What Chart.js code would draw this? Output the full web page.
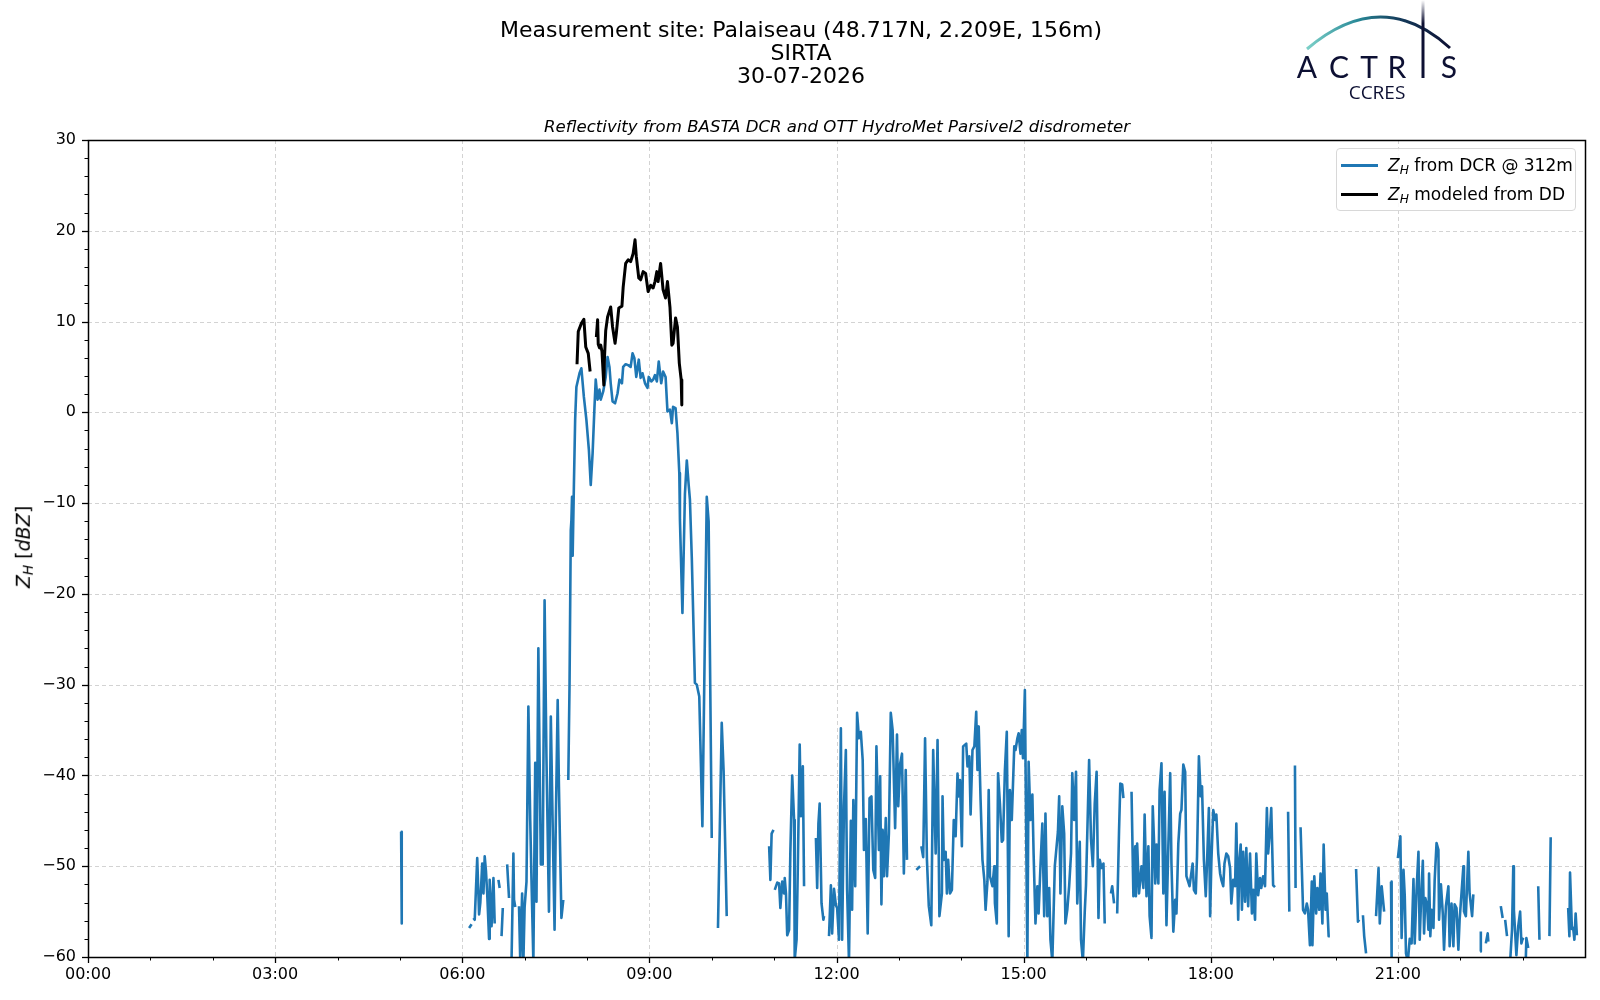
<!DOCTYPE html>
<html>
<head>
<meta charset="utf-8">
<script src="https://cdn.jsdelivr.net/npm/chart.js@4.4.1/dist/chart.umd.min.js"></script>
<style>
html,body{margin:0;padding:0;background:#fff;}
#wrap{position:relative;width:1600px;height:1000px;font-family:'DejaVu Sans',sans-serif;color:#000;overflow:hidden;}
#c{position:absolute;left:0;top:0;}
.ctr{position:absolute;transform:translate(-50%,-50%);white-space:nowrap;}
#title{left:801px;top:52px;font-size:22px;line-height:23px;text-align:center;}
#subtitle{left:837px;top:126px;font-size:16.6px;font-style:italic;}
#ylab{left:24px;top:547px;font-size:19px;transform:translate(-50%,-50%) rotate(-90deg);}
#ylab sub{font-size:0.72em;vertical-align:-0.25em;}
#legend{position:absolute;left:1336px;top:148px;width:240px;height:63px;border:1px solid #d8d8d8;border-radius:4px;background:rgba(255,255,255,0.85);box-sizing:border-box;}
.lrow{position:absolute;left:0;height:24px;font-size:17px;white-space:nowrap;}
.lrow .sw{position:absolute;left:4px;top:11px;width:37px;height:3px;}
.lrow .tx{position:absolute;left:51px;top:0;line-height:24px;}
.lrow sub{font-size:0.72em;vertical-align:-0.25em;}
#logo{position:absolute;left:0;top:0;}
</style>
</head>
<body>
<div id="wrap">
<canvas id="c" width="1600" height="1000"></canvas>
<div id="title" class="ctr">Measurement site: Palaiseau (48.717N, 2.209E, 156m)<br>SIRTA<br>30-07-2026</div>
<div id="subtitle" class="ctr">Reflectivity from BASTA DCR and OTT HydroMet Parsivel2 disdrometer</div>
<div id="ylab" class="ctr"><i>Z</i><sub><i>H</i></sub> [<i>dBZ</i>]</div>
<div id="legend">
  <div class="lrow" style="top:4px"><div class="sw" style="background:#1f77b4"></div><div class="tx"><i>Z</i><sub><i>H</i></sub> from DCR @ 312m</div></div>
  <div class="lrow" style="top:33px"><div class="sw" style="background:#000"></div><div class="tx"><i>Z</i><sub><i>H</i></sub> modeled from DD</div></div>
</div>
<svg id="logo" width="1600" height="110">
  <defs>
    <linearGradient id="arcg" gradientUnits="userSpaceOnUse" x1="1307" y1="0" x2="1450" y2="0">
      <stop offset="0" stop-color="#7cd0c8"/>
      <stop offset="0.35" stop-color="#2a8a98"/>
      <stop offset="0.65" stop-color="#143a5a"/>
      <stop offset="1" stop-color="#0d1033"/>
    </linearGradient>
    <linearGradient id="ig" gradientUnits="userSpaceOnUse" x1="0" y1="0" x2="0" y2="78">
      <stop offset="0" stop-color="#ffffff"/>
      <stop offset="0.3" stop-color="#0d1033"/>
      <stop offset="1" stop-color="#0d1033"/>
    </linearGradient>
  </defs>
  <path d="M 1307 49 Q 1381.5 -14.5 1450 48" stroke="url(#arcg)" stroke-width="3" fill="none"/>
  <line x1="1423" y1="0" x2="1423" y2="78" stroke="url(#ig)" stroke-width="3"/>
  <g font-family="Lato, 'Open Sans', sans-serif" font-size="30" fill="#0d1033" text-anchor="middle">
    <text x="1307" y="78">A</text>
    <text x="1339" y="78">C</text>
    <text x="1369" y="78">T</text>
    <text x="1397" y="78">R</text>
    <text x="1449" y="78">S</text>
  </g>
  <text x="1377" y="99" font-family="'Open Sans', Lato, sans-serif" font-size="19" fill="#0d1033" text-anchor="middle">CCRES</text>
</svg>
</div>
<script>
// ---- DATA (time in decimal hours UTC, reflectivity in dBZ; null = gap) ----
const dcrTime = [
5.02,5.03,null,
6.11,6.15,null,
6.18,6.20,6.24,6.27,6.29,6.32,6.34,6.36,6.38,6.40,6.43,6.44,6.47,6.50,6.52,null,
6.58,6.60,null,
6.63,6.65,null,
6.72,6.75,null,
6.79,6.82,6.83,6.85,null,
6.91,6.93,6.96,6.98,7.00,7.03,7.06,7.09,7.11,7.14,7.17,7.19,7.22,7.24,7.26,7.29,7.32,7.35,7.39,7.42,7.45,7.48,7.50,7.53,7.55,7.59,7.62,null,
7.70,7.72,7.74,7.75,7.76,7.77,7.79,7.81,7.83,7.88,7.91,7.95,7.99,8.03,8.06,8.09,8.12,8.14,8.17,8.20,8.22,8.26,8.30,8.33,8.36,8.38,8.41,8.45,8.49,8.52,8.56,8.58,8.62,8.66,8.70,8.73,8.76,8.79,8.83,8.86,8.89,8.93,8.97,8.99,9.03,9.06,9.09,9.12,9.15,9.19,9.22,9.26,9.29,9.33,9.36,9.38,9.42,9.45,9.48,9.49,9.53,9.57,9.60,9.63,9.65,9.68,9.73,9.76,9.80,9.85,9.89,9.92,9.95,10.00,null,
10.10,10.16,10.19,10.24,null,
10.92,10.94,10.96,10.99,null,
11.01,11.05,11.08,11.10,11.13,11.16,11.17,11.19,11.21,11.24,11.26,11.29,11.32,11.33,11.36,11.38,11.41,11.43,11.46,11.48,null,
11.67,11.69,11.71,11.73,11.76,11.79,11.80,null,
11.88,11.91,11.93,11.96,11.99,12.01,12.04,12.07,12.09,12.12,12.15,12.16,12.17,12.20,12.23,12.25,12.27,12.30,12.33,12.36,12.39,12.42,12.44,12.47,12.50,12.53,12.56,12.59,12.62,12.64,12.68,12.70,12.72,12.74,12.76,12.79,12.81,12.84,12.87,12.90,12.94,12.97,12.99,13.02,13.05,13.08,13.11,13.13,null,
13.28,13.34,null,
13.36,13.39,13.42,13.45,13.48,13.52,13.55,13.59,13.62,13.65,13.69,13.70,13.72,13.75,13.77,13.79,13.82,13.85,13.88,13.91,13.94,13.96,13.98,14.01,14.03,14.08,14.10,14.13,14.15,14.18,14.21,14.24,14.26,14.28,14.31,14.34,14.37,14.39,14.42,14.44,14.46,14.50,14.53,14.54,14.57,14.59,14.62,14.65,14.67,14.70,14.73,14.76,14.78,14.81,14.85,14.87,14.90,14.92,14.95,14.97,14.99,15.02,15.06,15.08,15.11,15.14,15.16,15.19,15.22,15.24,15.27,15.30,15.33,15.35,15.38,15.41,15.43,15.46,15.50,15.55,15.57,15.59,15.62,15.65,15.67,15.70,15.73,15.76,15.78,15.81,15.84,15.86,15.90,15.92,15.95,15.98,16.00,16.05,16.08,16.11,16.14,16.17,16.20,16.22,16.25,16.28,16.30,null,
16.40,16.42,16.45,null,
16.50,16.53,16.55,16.58,16.60,null,
16.73,16.76,16.79,16.80,16.82,16.85,16.89,16.92,16.94,16.97,17.00,17.02,17.05,17.07,17.09,17.11,17.13,17.16,17.18,17.21,17.24,17.26,17.29,17.32,17.35,17.37,17.40,17.43,17.45,17.48,17.51,17.53,17.56,17.59,17.61,17.66,17.71,17.73,17.76,17.78,17.81,17.84,17.86,17.89,17.92,17.94,17.97,17.99,18.01,18.04,18.07,18.09,18.12,18.15,18.17,18.20,18.22,18.25,18.28,18.31,18.33,18.36,18.39,18.41,18.44,18.46,18.48,18.50,18.52,18.55,18.57,18.60,18.63,18.66,18.68,18.71,18.73,18.76,18.79,18.81,18.84,18.87,18.90,18.92,18.95,18.97,19.00,19.03,null,
19.24,19.26,null,
19.35,19.36,null,
19.44,19.48,19.51,19.54,19.56,19.59,19.62,19.63,19.66,19.69,19.71,19.74,19.76,19.79,19.81,19.84,19.86,19.89,19.91,null,
20.33,20.36,20.38,null,
20.44,20.46,20.49,null,
20.65,20.69,20.71,20.74,20.78,null,
20.89,20.90,null,
21.00,21.04,21.06,21.09,21.11,21.13,21.16,21.19,21.22,21.25,21.27,21.30,21.33,21.35,21.37,21.40,21.42,21.44,21.47,21.49,21.50,21.52,21.54,21.57,21.59,21.62,21.65,21.66,21.69,21.72,21.74,21.77,21.81,21.83,21.86,21.89,21.91,21.94,21.97,21.99,22.02,22.05,22.06,22.09,22.13,22.15,22.19,22.21,null,
22.32,22.33,null,
22.41,22.44,22.45,null,
22.65,22.68,null,
22.72,22.75,null,
22.80,22.83,22.85,22.86,22.90,22.93,22.96,22.98,23.00,23.02,null,
23.05,23.06,23.09,null,
23.25,23.27,null,
23.43,23.45,null,
23.73,23.75,23.76,23.79,23.81,23.83,23.85,23.87
];
const dcrZ = [
-46.2,-56.3,null,
-56.8,-56.4,null,
-55.7,-55.9,-49.1,-55.3,-54.0,-49.7,-53.0,-48.9,-50.5,-53.0,-58.0,-51.5,-56.6,-51.3,-56.3,null,
-51.5,-52.4,null,
-57.7,-54.6,null,
-49.8,-53.5,null,
-60.5,-48.6,-53.7,-54.5,null,
-54.4,-60.5,-53.0,-60.5,-54.5,-51.7,-32.4,-45.0,-51.5,-60.5,-38.6,-53.9,-26.0,-38.0,-49.8,-49.8,-20.7,-38.0,-55.0,-33.5,-45.5,-57.0,-45.0,-31.7,-41.2,-55.7,-53.7,null,
-40.5,-30.0,-13.0,-11.9,-9.3,-15.8,-8.0,-0.8,2.8,4.3,4.85,1.7,-0.8,-4.1,-8.0,-4.5,0.6,3.6,1.4,2.5,1.4,2.3,3.9,6.1,5.0,3.2,1.2,1.0,2.1,3.6,3.2,5.0,5.3,5.2,5.0,6.5,5.95,3.9,5.8,3.8,4.3,3.2,2.7,3.9,3.4,3.6,4.1,3.4,5.6,3.2,4.5,3.9,0.1,0.3,-1.2,0.6,0.45,-2.3,-6.7,-11.85,-22.1,-9.0,-5.3,-8.0,-9.6,-16.0,-29.8,-30.0,-31.3,-45.6,-24.7,-9.3,-12.0,-46.9,null,
-56.8,-34.2,-39.5,-55.5,null,
-47.8,-51.5,-46.4,-46.0,null,
-52.6,-51.8,-51.9,-54.6,-51.7,-53.0,-51.3,-53.0,-57.6,-57.0,-48.5,-40.0,-44.9,-60.3,-58.1,-50.0,-36.6,-44.5,-39.0,-52.2,null,
-46.9,-52.4,-45.3,-43.1,-54.1,-55.9,-55.5,null,
-57.7,-52.1,-57.4,-52.5,-54.3,-54.6,-58.1,-34.8,-58.1,-43.4,-37.2,-45.6,-52.6,-60.5,-45.0,-54.8,-42.7,-52.2,-33.1,-35.9,-35.2,-38.3,-48.2,-44.8,-57.4,-42.5,-42.3,-50.4,-51.3,-36.8,-48.2,-40.1,-54.2,-46.0,-51.1,-44.7,-51.1,-46.4,-33.1,-35.0,-45.8,-35.5,-43.4,-38.7,-37.6,-50.8,-39.4,-49.3,null,
-50.4,-50.0,null,
-47.8,-49.0,-35.9,-49.3,-54.4,-56.5,-37.2,-48.6,-36.1,-55.5,-53.0,-42.3,-49.3,-48.4,-53.0,-49.3,-53.0,-52.6,-44.9,-46.7,-39.8,-42.3,-40.5,-47.8,-36.8,-36.5,-39.0,-37.9,-44.3,-37.2,-36.8,-33.0,-39.4,-34.6,-42.7,-49.3,-51.5,-54.8,-51.7,-41.6,-51.1,-52.2,-50.0,-54.1,-56.3,-39.75,-43.1,-47.3,-47.1,-39.4,-35.2,-57.7,-41.6,-44.9,-36.8,-37.2,-35.9,-35.35,-37.6,-35.0,-38.1,-30.6,-60.5,-38.5,-44.9,-42.1,-48.6,-56.3,-52.2,-55.2,-50.0,-45.3,-55.5,-44.2,-55.5,-52.4,-58.1,-60.5,-50.0,-46.2,-42.3,-53.0,-43.4,-46.4,-56.3,-54.8,-52.2,-48.6,-39.75,-44.9,-39.6,-54.1,-47.3,-58.1,-60.5,-55.0,-52.1,-38.3,-47.0,-50.0,-43.1,-39.6,-55.7,-49.3,-50.2,-49.7,-56.3,null,
-53.0,-52.2,-54.1,null,
-55.2,-46.0,-40.9,-41.0,-42.5,null,
-41.8,-53.3,-47.8,-53.3,-47.5,-53.0,-50.0,-52.4,-44.3,-53.3,-47.8,-55.5,-57.9,-43.4,-47.1,-51.9,-47.6,-51.9,-41.6,-38.65,-53.0,-41.8,-56.5,-47.8,-39.75,-49.7,-57.2,-53.7,-55.2,-47.5,-44.2,-43.8,-38.8,-39.6,-51.1,-52.2,-49.7,-52.6,-53.0,-48.9,-37.9,-42.3,-41.2,-49.3,-53.3,-49.7,-43.6,-55.5,-49.5,-43.8,-44.9,-44.3,-48.6,-50.8,-51.5,-52.2,-49.7,-48.6,-48.9,-50.2,-54.1,-51.5,-52.2,-45.3,-55.9,-49.3,-47.6,-54.8,-48.4,-53.9,-48.0,-54.4,-48.6,-55.2,-52.6,-55.9,-48.6,-53.2,-51.3,-52.4,-51.1,-52.2,-43.6,-48.6,-46.0,-43.6,-52.1,-52.3,null,
-44.0,-55.0,null,
-38.9,-52.4,null,
-45.7,-54.8,-55.2,-54.1,-54.8,-58.7,-51.7,-58.7,-51.1,-55.2,-52.4,-54.8,-50.8,-56.3,-47.6,-54.8,-53.0,-57.7,-57.7,null,
-50.3,-56.1,-55.9,null,
-55.4,-57.7,-59.6,null,
-55.5,-50.2,-56.3,-52.2,-55.0,null,
-51.7,-60.5,null,
-49.1,-46.7,-57.9,-50.4,-53.2,-59.6,-60.5,-58.0,-58.5,-51.4,-58.5,-52.6,-48.4,-58.1,-54.1,-49.4,-57.4,-53.5,-54.4,-57.0,-50.8,-57.7,-54.8,-56.8,-51.5,-47.45,-48.2,-55.9,-52.0,-55.2,-59.2,-54.4,-52.2,-58.8,-54.1,-58.8,-54.2,-54.6,-59.2,-55.9,-53.0,-50.0,-55.0,-55.5,-48.4,-53.0,-55.5,-53.1,null,
-59.4,-57.2,null,
-58.5,-57.4,-58.3,null,
-54.4,-55.7,null,
-55.9,-57.7,null,
-60.5,-57.0,-50.0,-54.8,-59.8,-56.6,-55.0,-58.5,-58.0,-58.1,null,
-60.5,-57.9,-59.0,null,
-52.2,-58.1,null,
-57.7,-46.8,null,
-54.6,-57.7,-50.7,-56.9,-56.8,-58.1,-55.2,-57.6
];
const ddTime = [
7.84,7.86,7.91,7.95,7.98,8.02,8.05,null,
8.15,8.17,8.18,8.20,8.22,8.24,8.27,8.28,8.30,8.33,8.38,8.41,8.45,8.47,8.51,8.56,8.58,8.62,8.66,8.70,8.74,8.77,8.79,8.83,8.86,8.90,8.94,8.98,9.02,9.06,9.09,9.12,9.14,9.18,9.22,9.26,9.29,9.33,9.36,9.38,9.42,9.45,9.48,9.51,9.52
];
const ddZ = [
5.3,8.9,9.8,10.25,7.2,6.5,4.5,null,
8.3,10.2,7.5,7.1,7.4,6.7,3.0,6.0,9.0,10.5,11.6,9.4,7.6,8.7,11.5,11.7,13.8,16.4,16.8,16.6,17.5,19.0,17.2,14.8,14.6,15.5,15.3,13.3,14.0,13.7,14.4,15.5,14.4,16.4,13.5,12.6,14.4,11.6,7.4,7.6,10.4,9.4,5.4,3.6,0.8
];
const xTickHours = [0,3,6,9,12,15,18,21];
const xTickLabels = ['00:00','03:00','06:00','09:00','12:00','15:00','18:00','21:00'];
const yTickValues = [30,20,10,0,-10,-20,-30,-40,-50,-60];
const seriesNames = ['Z_H from DCR @ 312m','Z_H modeled from DD'];

// ---- build points ----
function toPoints(ts, vs){
  const out = [];
  for (let i=0;i<ts.length;i++){
    if (ts[i]===null){ out.push({x:(ts[i-1]+ts[i+1])/2, y:null}); }
    else out.push({x:ts[i], y:vs[i]});
  }
  return out;
}

const axesPlugin = {
  id:'axesPlugin',
  beforeDatasetsDraw(chart){
    const {ctx, chartArea:a, scales:{x,y}} = chart;
    ctx.save();
    ctx.strokeStyle='#d3d3d3'; ctx.lineWidth=1; ctx.setLineDash([4,3]);
    xTickHours.forEach(h=>{
      if (h===0) return;
      const p=Math.round(x.getPixelForValue(h))+0.5;
      ctx.beginPath(); ctx.moveTo(p,a.top); ctx.lineTo(p,a.bottom); ctx.stroke();
    });
    yTickValues.forEach(v=>{
      if (v===30||v===-60) return;
      const p=Math.round(y.getPixelForValue(v))+0.5;
      ctx.beginPath(); ctx.moveTo(a.left,p); ctx.lineTo(a.right,p); ctx.stroke();
    });
    ctx.restore();
  },
  afterDraw(chart){
    const {ctx, chartArea:a, scales:{x,y}} = chart;
    ctx.save();
    ctx.setLineDash([]);
    ctx.strokeStyle='#000';
    ctx.lineWidth=1;
    for (let h=0; h<=24; h++){
      if (h%3===0) continue;
      const p=Math.round(x.getPixelForValue(h))+0.5;
      ctx.beginPath(); ctx.moveTo(p,a.bottom); ctx.lineTo(p,a.bottom+3.5); ctx.stroke();
    }
    for (let v=-60; v<=30; v+=2){
      if (v%10===0) continue;
      const p=Math.round(y.getPixelForValue(v))+0.5;
      ctx.beginPath(); ctx.moveTo(a.left,p); ctx.lineTo(a.left-3.5,p); ctx.stroke();
    }
    ctx.lineWidth=1.3;
    xTickHours.forEach(h=>{
      const p=Math.round(x.getPixelForValue(h))+0.5;
      ctx.beginPath(); ctx.moveTo(p,a.bottom); ctx.lineTo(p,a.bottom+6); ctx.stroke();
    });
    yTickValues.forEach(v=>{
      const p=Math.round(y.getPixelForValue(v))+0.5;
      ctx.beginPath(); ctx.moveTo(a.left,p); ctx.lineTo(a.left-6,p); ctx.stroke();
    });
    ctx.lineWidth=1.5;
    ctx.strokeRect(Math.round(a.left)+0.5, Math.round(a.top)+0.5, Math.round(a.right-a.left), Math.round(a.bottom-a.top));
    ctx.restore();
  }
};

const fontTick = {family:"'DejaVu Sans', sans-serif", size:16};

new Chart(document.getElementById('c'), {
  type:'line',
  data:{
    datasets:[
      {label:seriesNames[0], data:toPoints(dcrTime,dcrZ), borderColor:'#1f77b4', borderWidth:2.6, pointRadius:0, tension:0, spanGaps:false, borderJoinStyle:'round', borderCapStyle:'butt', order:2},
      {label:seriesNames[1], data:toPoints(ddTime,ddZ), borderColor:'#000000', borderWidth:3.0, pointRadius:0, tension:0, spanGaps:false, borderJoinStyle:'round', borderCapStyle:'butt', order:1}
    ]
  },
  options:{
    responsive:false,
    animation:false,
    devicePixelRatio:1,
    layout:{padding:{top:140, right:15, left:0, bottom:0}},
    plugins:{legend:{display:false}, tooltip:{enabled:false}, title:{display:false}},
    scales:{
      x:{
        type:'linear', min:0, max:24,
        grid:{display:false, drawTicks:false},
        border:{display:false},
        afterFit(s){ s.height=43; },
        afterBuildTicks(s){ s.ticks = xTickHours.map(v=>({value:v})); },
        ticks:{
          font:fontTick, color:'#000', padding:8, maxRotation:0, autoSkip:false,
          callback:(v)=>{ const i=xTickHours.indexOf(v); return i>=0 ? xTickLabels[i] : ''; }
        }
      },
      y:{
        type:'linear', min:-60, max:30,
        grid:{display:false, drawTicks:false},
        border:{display:false},
        afterFit(s){ s.width=88; },
        afterBuildTicks(s){ s.ticks = yTickValues.map(v=>({value:v})); },
        ticks:{
          font:fontTick, color:'#000', padding:12, autoSkip:false,
          callback:(v)=> (v<0 ? '\u2212'+Math.abs(v) : String(v))
        }
      }
    }
  },
  plugins:[axesPlugin]
});
</script>
</body>
</html>
